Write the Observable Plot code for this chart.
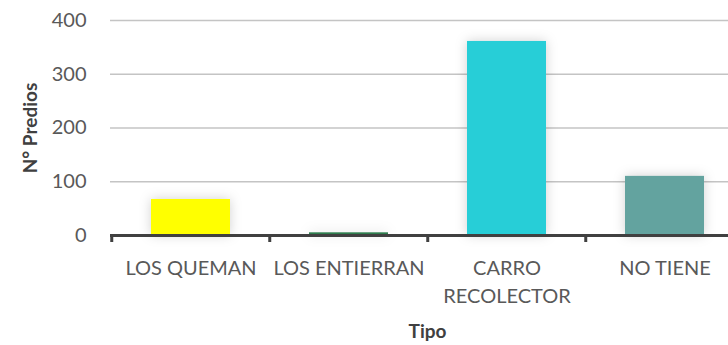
<!DOCTYPE html>
<html>
<head>
<meta charset="utf-8">
<script src="https://cdn.jsdelivr.net/npm/d3@7"></script>
<script src="https://cdn.jsdelivr.net/npm/@observablehq/plot@0.6"></script>
<style>
  html, body { margin: 0; padding: 0; background: #fff; overflow: hidden; }
  #chart svg { display: block; }
  .bars { filter: drop-shadow(0 0 6px rgba(0,0,0,0.18)); }
</style>
</head>
<body>
<div id="chart"></div>
<script>
const categories = ["LOS QUEMAN", "LOS ENTIERRAN", "CARRO RECOLECTOR", "NO TIENE"];
const values = [67, 5, 361, 110];
const colors = ["#FFFF00", "#2E7D4E", "#27CED7", "#63A39F"];
const tickLabels = {"LOS QUEMAN": "LOS QUEMAN", "LOS ENTIERRAN": "LOS ENTIERRAN", "CARRO RECOLECTOR": "CARRO\nRECOLECTOR", "NO TIENE": "NO TIENE"};
const yTicks = [0, 100, 200, 300, 400];
const yTitle = "N° Predios";
const xTitle = "Tipo";

const data = categories.map((c, i) => ({category: c, value: values[i], color: colors[i]}));

const font = "Lato, 'Open Sans', sans-serif";

const chart = Plot.plot({
  width: 728,
  height: 345,
  marginLeft: 110,
  marginRight: -16,
  marginTop: 20,
  marginBottom: 110,
  style: {fontFamily: font, fontSize: "20px", color: "#595959", background: "#fff"},
  x: {domain: categories, paddingInner: 0.5, paddingOuter: 0.25, axis: null},
  y: {domain: [0, 400], axis: null},
  marks: [
    Plot.gridY(yTicks.filter(d => d > 0), {stroke: "#c4c4c4", strokeOpacity: 1, strokeWidth: 1.5}),
    Plot.barY(data, {x: "category", y: "value", fill: "color", className: "bars"}),
    Plot.ruleY([0], {stroke: "#404040", strokeWidth: 3}),
    Plot.axisX({tickSize: 7, tickPadding: 0, dx: -79.25, stroke: "#404040", strokeWidth: 3, text: null, label: null}),
    Plot.axisX({tickSize: 0, tickPadding: 20, fill: "#595959", fontSize: 20, lineHeight: 1.4, label: null, tickFormat: d => tickLabels[d]}),
    Plot.axisY({ticks: yTicks, tickSize: 0, tickPadding: 24, fill: "#595959", fontSize: 20, label: null}),
    Plot.text([yTitle], {frameAnchor: "left", textAnchor: "middle", lineAnchor: "middle", rotate: -90, dx: -80, fontWeight: "bold", fontSize: 19, fill: "#404040"}),
    Plot.text([xTitle], {frameAnchor: "bottom", textAnchor: "middle", lineAnchor: "middle", dy: 96, fontWeight: "bold", fontSize: 19, fill: "#404040"})
  ]
});
document.getElementById("chart").appendChild(chart);
</script>
</body>
</html>
